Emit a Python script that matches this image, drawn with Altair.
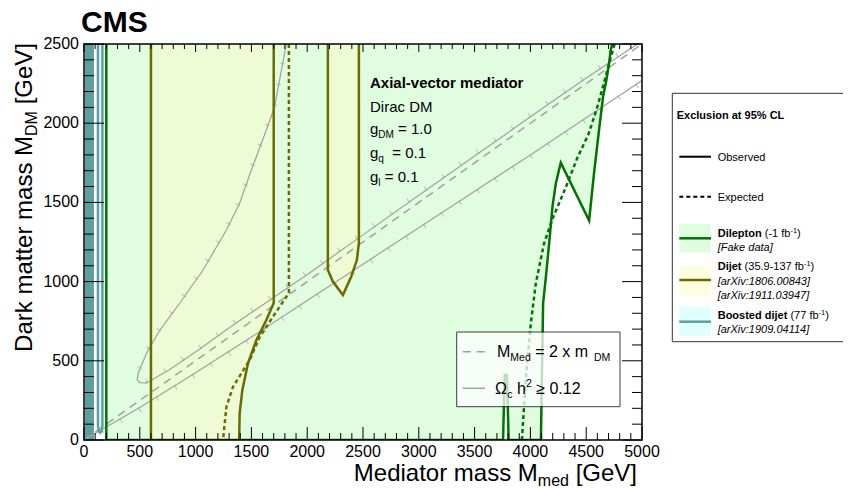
import altair as alt
import pandas as pd

FONT = "Liberation Sans"

# ---------------- data (all in GeV) ----------------
x_major = [0, 500, 1000, 1500, 2000, 2500, 3000, 3500, 4000, 4500, 5000]
y_major = [0, 500, 1000, 1500, 2000, 2500]
x_minor = [v for v in range(0, 5001, 100) if v % 500]
y_minor = [v for v in range(0, 2501, 100) if v % 500]

# Dilepton observed: lower edge of the excluded region (excluded above it)
dilep_obs_x = [200, 3755, 3770, 3790, 3805, 4094, 4114, 4139, 4168, 4198, 4228, 4272, 4526, 4570, 4615, 4651, 4681, 4705, 4720, 4735]
dilep_obs_y = [0, 0, 410, 410, 0, 0, 863, 1031, 1242, 1473, 1620, 1751, 1385, 1684, 1957, 2167, 2273, 2378, 2462, 2500]
# Dilepton expected
dilep_exp_x = [3924, 3960, 4004, 4049, 4123, 4200, 4320, 4420, 4520, 4590, 4650, 4710, 4755]
dilep_exp_y = [0, 400, 739, 991, 1243, 1400, 1600, 1780, 1930, 2080, 2230, 2390, 2500]

# Dijet observed, region A (lower edge)
dijetA_obs_x = [600, 1390, 1395, 1419, 1470, 1545, 1634, 1700]
dijetA_obs_y = [0, 0, 170, 316, 486, 631, 758, 865]
# Dijet expected, region A (right edge)
dijetA_exp_x = [1836, 1836, 1691, 1574, 1485, 1336, 1276, 1246]
dijetA_exp_y = [2500, 928, 776, 650, 505, 337, 210, 0]
# Dijet observed, region B (lower edge)
dijetB_obs_x = [2185, 2230, 2320, 2394, 2445, 2463]
dijetB_obs_y = [1073, 1000, 915, 1031, 1136, 1242]

# Boosted dijet
boost_band_x = [9, 89]
boost_band_y = [0, 0]
boost_obs_x = [125, 132, 145, 158, 165]
boost_obs_y = [90, 55, 45, 55, 90]

# Relic density Omega_c h^2 = 0.12 curves
relic1_x = [1813, 1708, 1634, 1500, 1395, 1276, 1067, 859, 680, 561, 486, 477, 500, 561, 769, 1038, 1333, 1574, 1813, 2021, 2500, 3000, 3500, 4000, 4500, 4960]
relic1_y = [2500, 2104, 1957, 1705, 1496, 1326, 1073, 865, 694, 549, 423, 380, 362, 360, 445, 575, 725, 840, 955, 1055, 1295, 1545, 1793, 2040, 2285, 2500]
relic2_x = [0, 500, 1000, 1500, 2000, 2500, 3000, 3500, 4000, 4500, 5000]
relic2_y = [0, 205, 425, 650, 880, 1110, 1340, 1570, 1800, 2035, 2270]
# M_med = 2 m_DM
diag_x = [0, 5000]
diag_y = [0, 2500]

# ---------------- styling ----------------
C_GREEN_F = "#e0fde0"
C_GREEN_L = "#007300"
C_YEL_F = "#eefcd5"
C_YEL_SW = "#fdfde0"
C_OLIVE = "#6b6b00"
C_CYAN_F = "#e0ffff"
C_TEAL = "#5f9ea0"
C_GRAY = "#a0a0a0"
C_HATCH = "#c2c2c2"

W, H = 558, 396
TOTAL_H = 480
xs = alt.Scale(domain=[0, 5000], nice=False, zero=False)
ys = alt.Scale(domain=[0, 2500], nice=False, zero=False)
X = alt.X("x:Q", scale=xs, axis=None)
Y = alt.Y("y:Q", scale=ys, axis=None)
ONE = pd.DataFrame({"k": [0]})


def frame(xv, yv):
    return pd.DataFrame({"x": xv, "y": yv, "i": list(range(len(xv)))})


def line(xv, yv, color, width, dash=None, **extra):
    m = dict(color=color, strokeWidth=width, clip=True, **extra)
    if dash:
        m["strokeDash"] = dash
    return alt.Chart(frame(xv, yv)).mark_line(**m).encode(x=X, y=Y, order="i:Q")


def area(xv, yv, color, top=2500):
    return alt.Chart(frame(xv, yv)).mark_area(color=color, clip=True).encode(
        x=X, y=Y, y2=alt.datum(top))


# Arial-metric widths (per 1000 em)
REG = {' ': 278, '(': 333, ')': 333, '-': 333, '.': 278, ':': 278, '[': 278, ']': 278, '=': 584,
       '≥': 549, '%': 889, 'A': 667, 'C': 722, 'D': 722, 'E': 667, 'F': 611, 'G': 778, 'L': 556,
       'M': 833, 'O': 778, 'V': 667, 'X': 667, 'a': 556, 'b': 556, 'c': 500, 'd': 556, 'e': 556,
       'f': 278, 'g': 556, 'h': 556, 'i': 222, 'j': 222, 'k': 500, 'l': 222, 'm': 833, 'n': 556,
       'o': 556, 'p': 556, 'q': 556, 'r': 333, 's': 500, 't': 278, 'u': 556, 'v': 500, 'x': 500,
       'y': 500, 'z': 500, 'Ω': 768}
BOLD = {' ': 278, 'A': 722, 'B': 722, 'C': 722, 'D': 722, 'E': 667, 'L': 611, 'M': 833, 'S': 667,
        '%': 889, '-': 333, 'a': 556, 'b': 611, 'c': 556, 'd': 611, 'e': 556, 'i': 278, 'j': 278,
        'l': 278, 'n': 611, 'o': 611, 'p': 611, 'r': 389, 's': 556, 't': 333, 'u': 611, 'v': 556,
        'x': 556}


def tw(s, size, bold=False):
    tab = BOLD if bold else REG
    return sum((556 if ch.isdigit() else tab.get(ch, 556)) for ch in s) * size / 1000.0


def T(text, x, y, size, bold=False, italic=False, align="left", angle=0, color="black"):
    return alt.Chart(ONE).mark_text(
        text=text, align=align, baseline="alphabetic", font=FONT, fontSize=size,
        fontWeight="bold" if bold else "normal", fontStyle="italic" if italic else "normal",
        angle=angle, color=color).encode(x=alt.value(x), y=alt.value(y))


def run(pieces, x, y):
    out = []
    for text, size, dy, style in pieces:
        b = style == "b"
        lead = len(text) - len(text.lstrip(" "))
        x += tw(" " * lead, size, b)
        body = text.lstrip(" ")
        out.append(T(body, x, y + dy, size, bold=b, italic=(style == "i")))
        x += tw(body, size, b)
    return out


def hrule(x1, x2, y, color, width, dash=None):
    m = dict(color=color, strokeWidth=width)
    if dash:
        m["strokeDash"] = dash
    return alt.Chart(ONE).mark_rule(**m).encode(x=alt.value(x1), x2=alt.value(x2), y=alt.value(y))


def box(x1, x2, y1, y2, fill, stroke=None, opacity=1.0, sw=1.0):
    m = dict(fill=fill, opacity=opacity)
    if stroke:
        m["stroke"] = stroke
        m["strokeWidth"] = sw
    return alt.Chart(ONE).mark_rect(**m).encode(
        x=alt.value(x1), x2=alt.value(x2), y=alt.value(y1), y2=alt.value(y2))


layers = []

# fills
layers.append(area(dilep_obs_x, dilep_obs_y, C_GREEN_F))
layers.append(area(dijetA_obs_x, dijetA_obs_y, C_YEL_F))
layers.append(area(dijetB_obs_x, dijetB_obs_y, C_YEL_F))
layers.append(area(boost_obs_x, boost_obs_y, C_CYAN_F))
layers.append(area(boost_band_x, boost_band_y, C_TEAL))

# relic hatching (short ticks along the curves) + relic lines + diagonal
layers.append(line(relic1_x, relic1_y, C_HATCH, 5, dash=[1.2, 20], yOffset=-2))
layers.append(line(relic2_x, relic2_y, C_HATCH, 5, dash=[1.2, 20], yOffset=2))
layers.append(line(relic1_x, relic1_y, C_GRAY, 1.2))
layers.append(line(relic2_x, relic2_y, C_GRAY, 1.2))
layers.append(line(diag_x, diag_y, C_GRAY, 1.5, dash=[8, 6]))

# contours
layers.append(line([125] + boost_obs_x + [165], [2500] + boost_obs_y + [2500], C_TEAL, 2.5))
layers.append(line(dijetA_exp_x, dijetA_exp_y, C_OLIVE, 2.5, dash=[4, 3]))
layers.append(line([600, 600], [0, 2500], C_OLIVE, 2.5))
layers.append(line(dijetA_obs_x[1:] + [1700], dijetA_obs_y[1:] + [2500], C_OLIVE, 2.5))
layers.append(line([dijetB_obs_x[0]] + dijetB_obs_x + [dijetB_obs_x[-1]],
                   [2500] + dijetB_obs_y + [2500], C_OLIVE, 2.5))
layers.append(line(dilep_exp_x, dilep_exp_y, C_GREEN_L, 2.5, dash=[4, 3]))
layers.append(line([200] + dilep_obs_x, [2500] + dilep_obs_y, C_GREEN_L, 2.5))

# ticks
tx = lambda v: pd.DataFrame({"v": v})
layers += [
    alt.Chart(tx(y_major)).mark_rule(color="black", strokeWidth=1).encode(
        y=alt.Y("v:Q", scale=ys, axis=None), x=alt.value(0), x2=alt.value(20)),
    alt.Chart(tx(y_minor)).mark_rule(color="black", strokeWidth=1).encode(
        y=alt.Y("v:Q", scale=ys, axis=None), x=alt.value(0), x2=alt.value(10)),
    alt.Chart(tx(y_major)).mark_rule(color="black", strokeWidth=1).encode(
        y=alt.Y("v:Q", scale=ys, axis=None), x=alt.value(W - 20), x2=alt.value(W)),
    alt.Chart(tx(y_minor)).mark_rule(color="black", strokeWidth=1).encode(
        y=alt.Y("v:Q", scale=ys, axis=None), x=alt.value(W - 10), x2=alt.value(W)),
    alt.Chart(tx(x_major)).mark_rule(color="black", strokeWidth=1).encode(
        x=alt.X("v:Q", scale=xs, axis=None), y=alt.value(H - 13), y2=alt.value(H)),
    alt.Chart(tx(x_minor)).mark_rule(color="black", strokeWidth=1).encode(
        x=alt.X("v:Q", scale=xs, axis=None), y=alt.value(H - 7), y2=alt.value(H)),
    alt.Chart(tx(x_major)).mark_rule(color="black", strokeWidth=1).encode(
        x=alt.X("v:Q", scale=xs, axis=None), y=alt.value(0), y2=alt.value(8)),
    alt.Chart(tx(x_minor)).mark_rule(color="black", strokeWidth=1).encode(
        x=alt.X("v:Q", scale=xs, axis=None), y=alt.value(0), y2=alt.value(5)),
]

# tick labels
layers.append(alt.Chart(tx(x_major)).mark_text(
    font=FONT, fontSize=16, color="black", align="center", baseline="top").encode(
    x=alt.X("v:Q", scale=xs, axis=None), y=alt.value(H + 4), text=alt.Text("v:Q", format="d")))
layers.append(alt.Chart(tx(y_major)).mark_text(
    font=FONT, fontSize=16, color="black", align="right", baseline="middle").encode(
    y=alt.Y("v:Q", scale=ys, axis=None), x=alt.value(-5), text=alt.Text("v:Q", format="d")))

# plot frame
layers.append(alt.Chart(ONE).mark_rect(filled=False, stroke="black", strokeWidth=1.5).encode(
    x=alt.value(0), x2=alt.value(W), y=alt.value(0), y2=alt.value(H)))

# in-plot text
layers.append(T("Axial-vector mediator", 286, 44, 15, bold=True))
layers.append(T("Dirac DM", 286, 68, 15))
layers += run([("g", 15, 0, "n"), ("DM", 10, 4, "n"), (" = 1.0", 15, 0, "n")], 286, 90)
layers += run([("g", 15, 0, "n"), ("q", 10, 4, "n"), ("  = 0.1", 15, 0, "n")], 286, 114)
layers += run([("g", 15, 0, "n"), ("l", 10, 4, "n"), (" = 0.1", 15, 0, "n")], 286, 138)

# in-plot legend
layers.append(box(372.7, 536, 288, 362.7, "white", stroke="black", opacity=0.75, sw=1))
layers.append(hrule(378.7, 401, 307.7, C_GRAY, 1.5, dash=[8, 6]))
layers.append(hrule(378.7, 401, 344.3, C_GRAY, 1.5))
layers += run([("M", 16, 0, "n"), ("Med", 10.5, 4, "n"), (" = 2 x m", 16, 0, "n"), ("  DM", 10.5, 4, "n")], 413, 313)
layers += run([("Ω", 16, 0, "n"), ("c", 10.5, 4, "n"), (" h", 16, 0, "n"), ("2", 10.5, -7, "n"), (" ≥ 0.12", 16, 0, "n")], 411, 350)

# outside legend
layers.append(box(588.3, 800, 49.3, 297.7, "white", stroke="#333333", sw=1))
layers.append(T("Exclusion at 95% CL", 592.7, 75, 11, bold=True))
layers.append(hrule(595.3, 627, 112.7, "black", 2))
layers.append(T("Observed", 633.7, 116.5, 11))
layers.append(hrule(595.3, 627, 152.7, "black", 2, dash=[4, 3]))
layers.append(T("Expected", 633.7, 156.5, 11))
layers.append(box(595.3, 627, 180, 208.7, C_GREEN_F))
layers.append(hrule(595.3, 627, 194.3, C_GREEN_L, 2.5))
layers += run([("Dilepton", 11, 0, "b"), (" (-1 fb", 11, 0, "n"), ("-1", 7.5, -4, "n"), (")", 11, 0, "n")], 633.7, 192.5)
layers.append(T("[Fake data]", 633.7, 207, 11, italic=True))
layers.append(box(595.3, 627, 222, 251, C_YEL_SW))
layers.append(hrule(595.3, 627, 236, C_OLIVE, 2.5))
layers += run([("Dijet", 11, 0, "b"), (" (35.9-137 fb", 11, 0, "n"), ("-1", 7.5, -4, "n"), (")", 11, 0, "n")], 633.7, 226)
layers.append(T("[arXiv:1806.00843]", 633.7, 240.5, 11, italic=True))
layers.append(T("[arXiv:1911.03947]", 633.7, 255, 11, italic=True))
layers.append(box(595.3, 627, 263.3, 292, C_CYAN_F))
layers.append(hrule(595.3, 627, 277.7, C_TEAL, 2.5))
layers += run([("Boosted dijet", 11, 0, "b"), (" (77 fb", 11, 0, "n"), ("-1", 7.5, -4, "n"), (")", 11, 0, "n")], 633.7, 275)
layers.append(T("[arXiv:1909.04114]", 633.7, 289.3, 11, italic=True))

# CMS + axis titles
layers.append(T("CMS", -3, -12.5, 30, bold=True))
TS = 24
SS = 16
# y title (rotated, reads upward, right-aligned at the top)
layers.append(T("[GeV]", -52, -1, TS, align="right", angle=270))
y_dm = -1 + tw(" [GeV]", TS)
layers.append(T("DM", -47, y_dm, SS, align="right", angle=270))
y_main = y_dm + tw("DM", SS)
layers.append(T("Dark matter mass M", -52, y_main, TS, align="right", angle=270))
# x title (right-aligned)
x_end = 553
layers.append(T("[GeV]", x_end, 437, TS, align="right"))
x_med = x_end - tw(" [GeV]", TS)
layers.append(T("med", x_med, 442, SS, align="right"))
x_main = x_med - tw("med", SS)
layers.append(T("Mediator mass M", x_main, 437, TS, align="right"))

chart = alt.layer(*layers).properties(
    width=W, height=H,
    autosize=alt.AutoSizeParams(type="none"),
    padding={"left": 76, "top": 36, "right": 835 - 76 - W, "bottom": TOTAL_H - 36 - H},
    background="white",
).configure_view(stroke=None)

chart.save("out.html", embed_options={"renderer": "svg", "actions": False})
